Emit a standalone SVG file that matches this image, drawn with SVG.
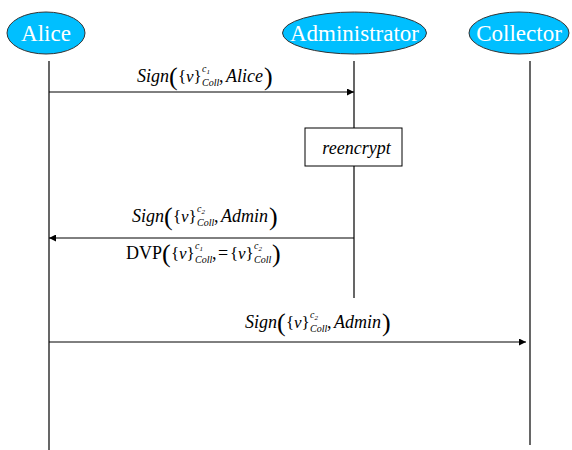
<svg xmlns="http://www.w3.org/2000/svg" width="572" height="450" viewBox="0 0 572 450">
<style>
.node{fill:#00BFFF;stroke:#333;stroke-width:1}
.nl{font-size:23px;fill:#fff;text-anchor:middle}
.life{stroke:#000;stroke-width:1.2;fill:none}
.msg{stroke:#000;stroke-width:1;fill:none}
text{font-family:'Liberation Serif','Times New Roman',Tinos,'DejaVu Serif',serif}
.i{font-style:italic;font-size:18px}
.u{font-size:18px}
.p{font-size:26px}
.b{font-size:17px}
.sv{font-style:italic;font-size:17px}
.s{font-style:italic;font-size:10px}
.ss{font-size:7px;font-style:italic}
</style>
<defs>
<marker id="ah" viewBox="0 0 10 10" refX="10" refY="5" markerWidth="9" markerHeight="7" markerUnits="userSpaceOnUse" orient="auto">
<path d="M0,0 L10,5 L0,10 z" fill="#000"/>
</marker>
</defs>
<g id="alice"><ellipse class="node" cx="46" cy="33" rx="39" ry="21"/><text class="nl" x="46" y="41">Alice</text></g>
<g id="administrator"><ellipse class="node" cx="354.5" cy="33" rx="72" ry="21"/><text class="nl" x="354.5" y="41">Administrator</text></g>
<g id="collector"><ellipse class="node" cx="519" cy="33" rx="50" ry="21"/><text class="nl" x="519" y="41">Collector</text></g>
<g id="reencrypt"><rect x="305" y="128" width="97" height="38" fill="#fff" stroke="#000" stroke-width="1"/><text class="i" x="356.5" y="154" text-anchor="middle">reencrypt</text></g>
<g id="lifelines">
<line class="life" x1="49" y1="61" x2="49" y2="450"/>
<line class="life" x1="354" y1="61" x2="354" y2="128"/>
<line class="life" x1="354" y1="166" x2="354" y2="298"/>
<line class="life" x1="530" y1="61" x2="530" y2="445"/>
</g>
<g id="connectors">
<line class="msg" x1="49" y1="92" x2="354" y2="92" marker-end="url(#ah)"/>
<line class="msg" x1="354" y1="238" x2="49" y2="238" marker-end="url(#ah)"/>
<line class="msg" x1="49" y1="342" x2="526" y2="342" marker-end="url(#ah)"/>
</g>
<g id="label1" transform="translate(137,82)">
<text class="i" x="0" y="0">Sign</text>
<text class="p" x="32" y="3">(</text>
<text class="b" x="41" y="0">{</text>
<text class="sv" x="49" y="0">v</text>
<text class="b" x="56.5" y="0">}</text>
<text class="s" x="65" y="-10">c</text><text class="ss" x="69.5" y="-8">1</text>
<text class="s" x="65" y="4">Coll</text>
<text class="u" x="82" y="0">,</text>
<text class="i" x="89" y="0">Alice</text>
<text class="p" x="127" y="3">)</text>
</g>
<g id="label2" transform="translate(132,222)">
<text class="i" x="0" y="0">Sign</text>
<text class="p" x="32" y="3">(</text>
<text class="b" x="41" y="0">{</text>
<text class="sv" x="49" y="0">v</text>
<text class="b" x="56.5" y="0">}</text>
<text class="s" x="65" y="-10">c</text><text class="ss" x="69.5" y="-8">2</text>
<text class="s" x="65" y="4">Coll</text>
<text class="u" x="82" y="0">,</text>
<text class="i" x="89" y="0">Admin</text>
<text class="p" x="137" y="3">)</text>
</g>
<g id="label3" transform="translate(126,259)">
<text class="u" x="0" y="0">DVP</text>
<text class="p" x="36" y="3">(</text>
<text class="b" x="45" y="0">{</text>
<text class="sv" x="53" y="0">v</text>
<text class="b" x="60.5" y="0">}</text>
<text class="s" x="69" y="-10">c</text><text class="ss" x="73.5" y="-8">1</text>
<text class="s" x="69" y="4">Coll</text>
<text class="u" x="86" y="0">,</text>
<text class="u" x="92" y="0">=</text>
<text class="b" x="104" y="0">{</text>
<text class="sv" x="112" y="0">v</text>
<text class="b" x="119.5" y="0">}</text>
<text class="s" x="128" y="-10">c</text><text class="ss" x="132.5" y="-8">2</text>
<text class="s" x="128" y="4">Coll</text>
<text class="p" x="146" y="3">)</text>
</g>
<g id="label4" transform="translate(245,328)">
<text class="i" x="0" y="0">Sign</text>
<text class="p" x="32" y="3">(</text>
<text class="b" x="41" y="0">{</text>
<text class="sv" x="49" y="0">v</text>
<text class="b" x="56.5" y="0">}</text>
<text class="s" x="65" y="-10">c</text><text class="ss" x="69.5" y="-8">2</text>
<text class="s" x="65" y="4">Coll</text>
<text class="u" x="82" y="0">,</text>
<text class="i" x="89" y="0">Admin</text>
<text class="p" x="137" y="3">)</text>
</g>
</svg>
